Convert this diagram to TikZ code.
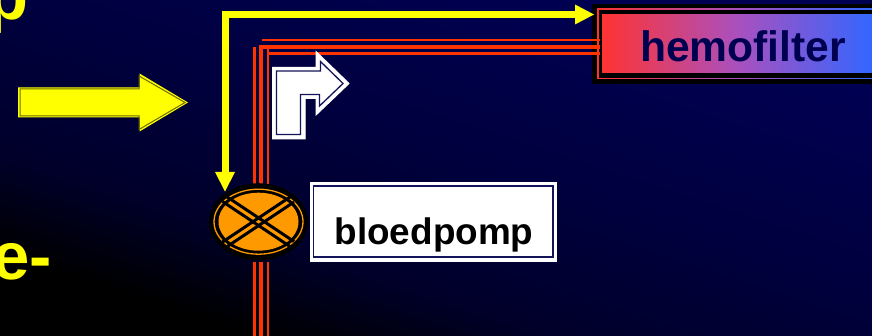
\documentclass[tikz,border=0pt]{standalone}
\usepackage{fontspec}
\setmainfont{Liberation Sans}
\definecolor{navybg}{RGB}{0,0,82}
\definecolor{navyA}{RGB}{0,0,42}
\definecolor{navyB}{RGB}{0,0,62}
\definecolor{brightyellow}{RGB}{255,255,0}
\definecolor{bloodred}{RGB}{255,51,0}
\definecolor{pumporange}{RGB}{255,153,0}
\definecolor{inkblue}{RGB}{20,20,90}
\definecolor{textnavy}{RGB}{0,0,80}
\definecolor{darkyellow}{RGB}{110,110,0}
\definecolor{gradred}{RGB}{255,51,51}
\definecolor{gradmid}{RGB}{170,80,190}
\definecolor{gradblue}{RGB}{51,102,255}
\pgfdeclareverticalshading{bgshade}{100bp}{color(0bp)=(black); color(27bp)=(black); color(37bp)=(navyA); color(52bp)=(navyB); color(72bp)=(navybg); color(100bp)=(navybg)}
\begin{document}
\begin{tikzpicture}[x=1pt,y=-1pt,
  redline/.style={draw=bloodred,line width=2.7pt},
  redmid/.style={draw=bloodred,line width=4.5pt},
  yellowline/.style={draw=brightyellow,line width=7pt},
  crossline/.style={draw=black,line width=3pt},
  filtergrad/.style={left color=gradred,right color=gradblue,middle color=gradmid},
  labeltext/.style={inner sep=0pt,anchor=base}]
\useasboundingbox (0,0) rectangle (872,336);
\clip (0,0) rectangle (872,336);
\shade[shading=bgshade,shading angle=-18] (0,0) rectangle (872,336);

% left text fragments
\node[labeltext,text=brightyellow,font=\bfseries\fontsize{67}{67}\selectfont] (ptxt) at (7.5,20) {p};
\node[labeltext,text=brightyellow,font=\bfseries\fontsize{67}{67}\selectfont] (etxt) at (22.5,280) {e-};

% yellow block arrow
\fill[brightyellow]
  (18,87.5) -- (139.5,87.5) -- (139.5,73.5) -- (188,102.5) -- (139.5,131.5) -- (139.5,117.5) -- (18,117.5) -- cycle;
\draw[draw=darkyellow,line width=1pt]
  (20,89) -- (139,89) -- (139,76) -- (185,102.5) -- (139,129.5) -- (139,116) -- (20,116) -- cycle;

% hemofilter box
\fill[black] (592,4) rectangle (872,84);
\shade[filtergrad] (597,9) rectangle (872,79);
\fill[black] (598.5,10.5) rectangle (872,77.6);
\shade[filtergrad] (602,15) rectangle (872,73);
\node[labeltext,text=textnavy,font=\bfseries\fontsize{42.6}{42.6}\selectfont] (hemo) at (743,62) {hemofilter};

% blood lines
\draw[redline] (254.5,47) -- (254.5,188);
\draw[redline] (268,49) -- (268,188);
\draw[redmid] (261,45) -- (261,188);
\draw[redline] (262,40) -- (600,40);
\draw[redline] (267,53.3) -- (600,53.3);
\draw[redmid] (259,47.2) -- (600,47.2);
\draw[redline] (254.5,262) -- (254.5,336);
\draw[redline] (268,262) -- (268,336);
\draw[redmid] (261,262) -- (261,336);

% yellow line with arrows
\draw[yellowline] (578,15) -- (225.5,15) -- (225.5,174);
\fill[brightyellow] (594,14.5) -- (575,4.5) -- (575,24.5) -- cycle;
\fill[brightyellow] (225,191.5) -- (215,172) -- (235,172) -- cycle;

% white bent arrow
\draw[fill=white,draw=white,line width=1pt]
  (272.5,67.5) -- (316,67.5) -- (316,51.5) -- (349,83.5) -- (316,115) -- (316,98.5) -- (305,98.5) -- (305,139) -- (272.5,139) -- cycle;
\draw[draw=inkblue,line width=1.3pt]
  (276.5,71) -- (320.5,71) -- (320.5,61.5) -- (343,83.5) -- (319.5,106) -- (319.5,94.5) -- (300.5,94.5) -- (300.5,134.5) -- (276.5,134.5) -- cycle;

% pump
\fill[black] (258.5,221.7) ellipse [x radius=49.5,y radius=38.5];
\draw[draw=pumporange,line width=1.3pt] (258.5,221.7) ellipse [x radius=44.5,y radius=32.5];
\fill[pumporange] (258.5,221.7) ellipse [x radius=40,y radius=29];
\draw[crossline] (222.5,201.5) -- (290,246.5);
\draw[crossline] (226.5,196.5) -- (294,241.5);
\draw[crossline] (222.5,242) -- (290,197);
\draw[crossline] (226.5,247) -- (294,202);

% bloedpomp box
\fill[white] (309.5,182) rectangle (557,262);
\draw[draw=inkblue,line width=1.3pt] (313.5,186) rectangle (553,257);
\node[labeltext,text=black,font=\bfseries\fontsize{36.9}{36.9}\selectfont] (blo) at (434,244.5) {bloedpomp};
\end{tikzpicture}
\end{document}
